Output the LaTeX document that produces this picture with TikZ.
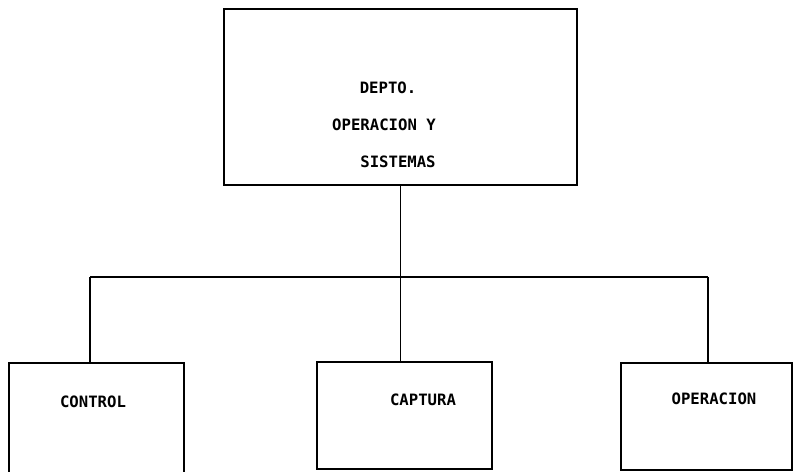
\documentclass[tikz,border=0pt]{standalone}
\usepackage{fontspec}
\newfontfamily\typefont{DejaVu Sans Mono}
\usetikzlibrary{positioning}
\tikzset{
  unitbox/.style={draw,line width=1.4pt,inner sep=0pt},
  unittext/.style={font=\typefont\bfseries\fontsize{8.9}{10}\selectfont,inner sep=0pt},
  link/.style={line width=1pt}
}

\begin{document}
\begin{tikzpicture}[x=0.02cm,y=-0.02cm]
  \clip (0,0) rectangle (794,472);
  % boxes
  \node[unitbox,minimum width=7.06cm,minimum height=3.52cm] (dept) at (400.5,97) {};
  \node[unitbox,minimum width=3.5cm,minimum height=2.26cm] (ctrl) at (96.5,419.5) {};
  \node[unitbox,minimum width=3.5cm,minimum height=2.14cm] (capt) at (404.5,415.5) {};
  \node[unitbox,minimum width=3.42cm,minimum height=2.14cm] (oper) at (706.5,416.5) {};
  % texts
  \node[unittext] (deptA) at (388,88) {DEPTO.};
  \node[unittext] (deptB) at (384,125) {OPERACION Y};
  \node[unittext] (deptC) at (398,162) {SISTEMAS};
  \node[unittext] (ctrlT) at (93,402) {CONTROL};
  \node[unittext] (captT) at (423,400) {CAPTURA};
  \node[unittext] (operT) at (714,399) {OPERACION};
  % connectors
  \coordinate (busL) at (90,277);
  \coordinate (busR) at (708,277);
  \draw[link] (busL) -- (busR);
  \draw[link] (dept.south) -- (dept.south |- busL);
  \draw[link] (busL) -- (busL |- ctrl.north);
  \draw[link] (dept.south |- busL) -- (dept.south |- capt.north);
  \draw[link] (busR) -- (busR |- oper.north);
\end{tikzpicture}
\end{document}
